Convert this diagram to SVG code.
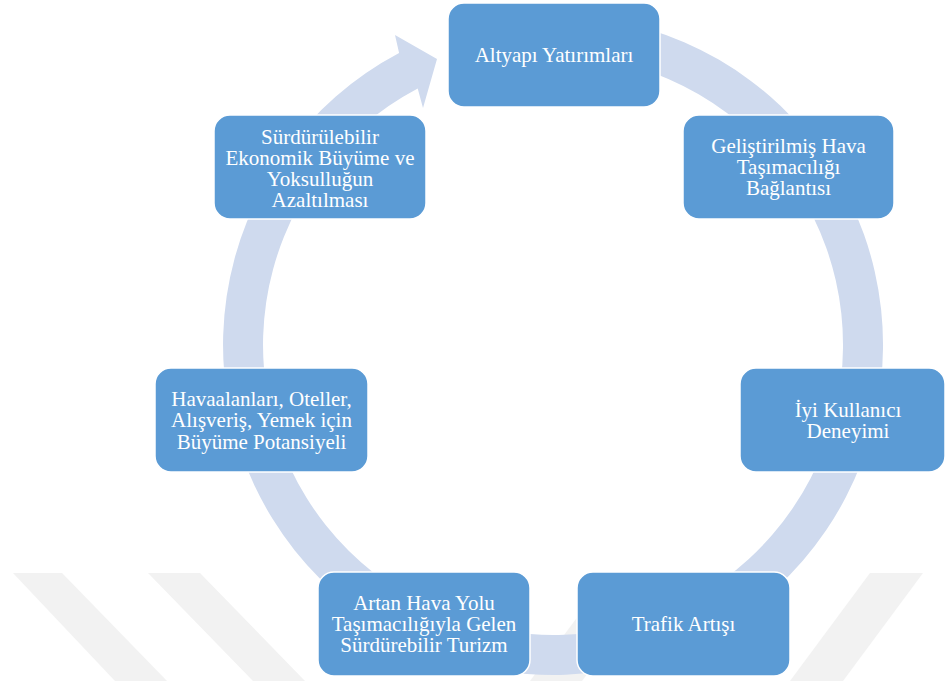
<svg xmlns="http://www.w3.org/2000/svg" width="946" height="681" viewBox="0 0 946 681">
  <style>
    .wm { fill: #f2f2f2; }
    .ring { fill: #cfdaee; }
    .box { fill: #5b9bd5; stroke: #ffffff; stroke-width: 1.5; }
    .lbl { font-family: "Liberation Serif", "Times New Roman", serif; font-size: 21px; fill: #ffffff; text-anchor: middle; }
  </style>

  <!-- faint stripes along the bottom edge -->
  <g id="watermark">
    <polygon class="wm" points="13,573 62,573 167,681 115,681"/>
    <polygon class="wm" points="148,573 200,573 305,681 253,681"/>
    <polygon class="wm" points="610,573 662,573 582,681 530,681"/>
    <polygon class="wm" points="870,573 923,573 843,681 790,681"/>
  </g>

  <!-- circular flow arrow -->
  <g id="connectors">
    <path class="ring" d="M 610.3 20.0 A 330 330 0 1 1 399.1 53.1 L 395 35 L 437 59 L 423 108 L 417.7 88.5 A 290 290 0 1 0 603.4 59.4 Z"/>
  </g>

  <g id="n1">
    <rect class="box" x="448" y="3" width="212" height="104" rx="16"/>
    <text class="lbl" x="554" y="62">Altyapı Yatırımları</text>
  </g>

  <g id="n2">
    <rect class="box" x="683" y="115" width="211" height="104" rx="16"/>
    <text class="lbl" x="788.5" y="153">Geliştirilmiş Hava</text>
    <text class="lbl" x="788.5" y="174">Taşımacılığı</text>
    <text class="lbl" x="788.5" y="195">Bağlantısı</text>
  </g>

  <g id="n3">
    <rect class="box" x="740" y="368" width="205" height="104" rx="16"/>
    <text class="lbl" x="848" y="416.5">İyi Kullanıcı</text>
    <text class="lbl" x="848" y="437.5">Deneyimi</text>
  </g>

  <g id="n4">
    <rect class="box" x="577" y="572" width="213" height="104" rx="16"/>
    <text class="lbl" x="683.5" y="631">Trafik Artışı</text>
  </g>

  <g id="n5">
    <rect class="box" x="318" y="572" width="212" height="104" rx="16"/>
    <text class="lbl" x="424" y="610">Artan Hava Yolu</text>
    <text class="lbl" x="424" y="631">Taşımacılığıyla Gelen</text>
    <text class="lbl" x="424" y="652">Sürdürebilir Turizm</text>
  </g>

  <g id="n6">
    <rect class="box" x="155" y="368" width="213" height="104" rx="16"/>
    <text class="lbl" x="261.5" y="405.5">Havaalanları, Oteller,</text>
    <text class="lbl" x="261.5" y="427">Alışveriş, Yemek için</text>
    <text class="lbl" x="261.5" y="448.5">Büyüme Potansiyeli</text>
  </g>

  <g id="n7">
    <rect class="box" x="214" y="115" width="212" height="104" rx="16"/>
    <text class="lbl" x="320" y="143.5">Sürdürülebilir</text>
    <text class="lbl" x="320" y="164.5">Ekonomik Büyüme ve</text>
    <text class="lbl" x="320" y="185.5">Yoksulluğun</text>
    <text class="lbl" x="320" y="206.5">Azaltılması</text>
  </g>
</svg>
